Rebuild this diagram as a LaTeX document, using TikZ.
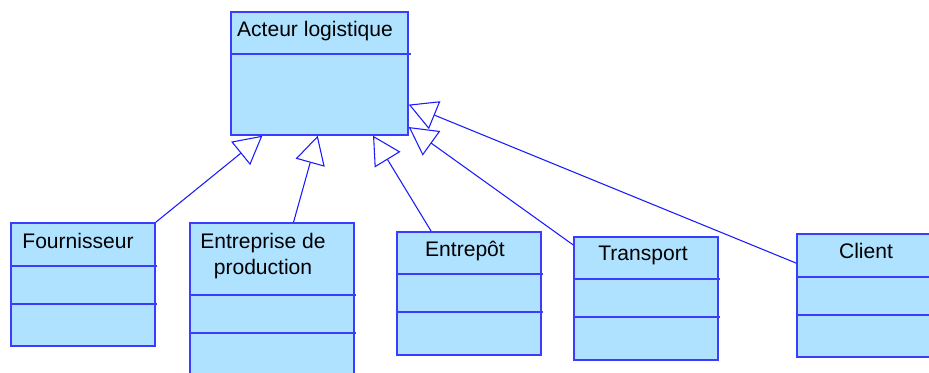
\documentclass[tikz,border=0pt]{standalone}
\usepackage{fontspec}
\setmainfont{Liberation Sans}
\usetikzlibrary{arrows.meta,fit,calc}
\definecolor{classfill}{HTML}{AFE2FF}
\definecolor{classline}{HTML}{3C3CFF}
\definecolor{genline}{HTML}{1A1AFF}

\begin{document}
\begin{tikzpicture}[x=0.75pt,y=-0.75pt,
        classbox/.style={draw=classline, fill=classfill, line width=1.1pt, inner sep=0pt},
        classname/.style={font=\fontsize{15.8}{20}\selectfont, align=center, inner sep=0pt},
        divider/.style={draw=classline, line width=1.1pt},
        generalize/.style={draw=genline, line width=0.8pt,
            -{Triangle[length=21pt, width=22.5pt, fill=white]}}]

        \useasboundingbox (0,0) rectangle (929,372);
        \clip (0,0) rectangle (929,372);

        \node[classbox, fit={(231,12) (408,135)}] (acteur) {};
        \node[classbox, fit={(11,223) (155,346)}] (fourn) {};
        \node[classbox, fit={(190,223) (354,385)}] (entrep) {};
        \node[classbox, fit={(397,232) (541,355)}] (entrepot) {};
        \node[classbox, fit={(574,237) (718,360)}] (transp) {};
        \node[classbox, fit={(797,234) (945,357)}] (client) {};

        \draw[divider] (231,54) -- (411,54);
        \draw[divider] (11,266) -- (157,266);
        \draw[divider] (11,304) -- (157,304);
        \draw[divider] (190,295) -- (356,295);
        \draw[divider] (190,333) -- (356,333);
        \draw[divider] (397,274) -- (543,274);
        \draw[divider] (397,312) -- (543,312);
        \draw[divider] (574,279) -- (720,279);
        \draw[divider] (574,317) -- (720,317);
        \draw[divider] (797,277) -- (929,277);
        \draw[divider] (797,315) -- (929,315);

        \node[classname] (acteurT) at (315,31) {Acteur logistique};
        \node[classname] (fournT) at (78,241) {Fournisseur};
        \node[classname] (entrepT) at (263,256) {Entreprise de\\production};
        \node[classname] (entrepotT) at (465,251) {Entrepôt};
        \node[classname] (transpT) at (643,255) {Transport};
        \node[classname] (clientT) at (866,251) {Client};

        % #######################################

        \draw[generalize] (fourn.north east) --
            ($(acteur.south west)!0.18!(acteur.south east)$);
        \draw[generalize] ($(entrep.north west)!0.63!(entrep.north east)$) --
            ($(acteur.south west)!0.49!(acteur.south east)$);
        \draw[generalize] ($(entrepot.north west)!0.24!(entrepot.north east)$) --
            ($(acteur.south west)!0.80!(acteur.south east)$);
        \draw[generalize] ($(transp.north west)!0.07!(transp.south west)$) --
            ($(acteur.north east)!0.93!(acteur.south east)$);
        \draw[generalize] ($(client.north west)!0.24!(client.south west)$) --
            ($(acteur.north east)!0.75!(acteur.south east)$);

\end{tikzpicture}
\end{document}
